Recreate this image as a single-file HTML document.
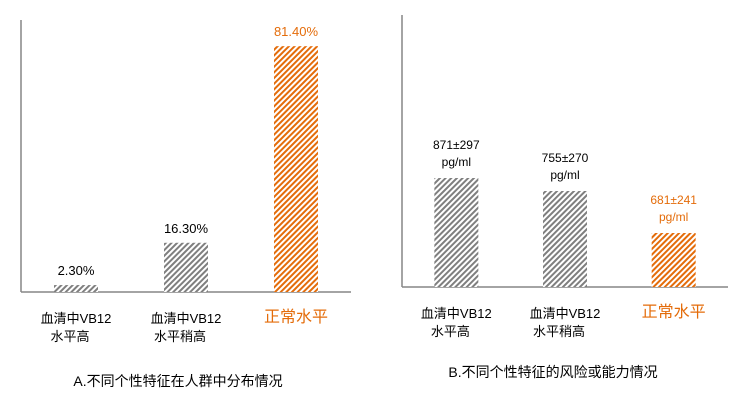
<!DOCTYPE html>
<html><head><meta charset="utf-8"><style>
body{margin:0;background:#fff;width:746px;height:414px;overflow:hidden}
svg text{font-family:"Liberation Sans","Noto Sans CJK SC",sans-serif}
</style></head><body>
<svg id="c" width="746" height="414">
<defs>
<pattern id="hg" width="4" height="4" patternUnits="userSpaceOnUse" patternTransform="rotate(45)"><rect width="4" height="4" fill="#fff"/><rect width="2" height="4" fill="#7f7f7f"/></pattern>
<pattern id="ho" width="4" height="4" patternUnits="userSpaceOnUse" patternTransform="rotate(45)"><rect width="4" height="4" fill="#fff"/><rect width="2" height="4" fill="#e46c0a"/></pattern>
</defs>
</svg>
<script>
const catsL1=["血清中VB12","血清中VB12","正常水平"];
const catsL2=["水平高","水平稍高",""];
const pctValues=[2.3,16.3,81.4];
const pctLabels=["2.30%","16.30%","81.40%"];
const levelValues=[109,96,54];
const levelLabels1=["871±297","755±270","681±241"];
const levelLabels2=["pg/ml","pg/ml","pg/ml"];
const svg=document.getElementById('c');const NS="http://www.w3.org/2000/svg";
function mk(t,a,txt){const e=document.createElementNS(NS,t);for(const k in a)e.setAttribute(k,a[k]);if(txt!==undefined)e.textContent=txt;svg.appendChild(e);return e;}
function chart(o){
 const ax=mk('line',{x1:o.x0,y1:o.top,x2:o.x0,y2:o.base,stroke:'#868686','stroke-width':1.5});
 
 const bx=mk('line',{x1:o.x0,y1:o.base,x2:o.x1,y2:o.base,stroke:'#868686','stroke-width':1.5});
 
 const bw=(o.x1-o.x0)/3;
 o.vals.forEach((v,i)=>{
  const cx=o.x0+bw*(i+0.5);const h=v*o.k;const orange=i===2;
  const r=mk('rect',{x:cx-22,y:o.base-h,width:44,height:h,fill:orange?'url(#ho)':'url(#hg)'});
  
  const col=orange?'#e46c0a':'#000';
  if(o.lab2){
   const t1=mk('text',{x:cx,y:o.base-h-29,'text-anchor':'middle','font-size':12,fill:col},o.lab1[i]);
   
   const t2=mk('text',{x:cx,y:o.base-h-12,'text-anchor':'middle','font-size':12,fill:col},o.lab2[i]);
   
  }else{
   const t1=mk('text',{x:cx,y:o.base-h-10,'text-anchor':'middle','font-size':13,fill:col},o.lab1[i]);
   
  }
  if(orange){
   const c=mk('text',{x:cx,y:o.base+30,'text-anchor':'middle','font-size':16,fill:col},catsL1[i]);
   
  }else{
   const c=mk('text',{x:cx,y:o.base+31,'text-anchor':'middle','font-size':13,fill:'#000'},catsL1[i]);
   
   const c2=mk('text',{x:cx-6,y:o.base+49,'text-anchor':'middle','font-size':13,fill:'#000'},catsL2[i]);
   
  }
 });
 const t=mk('text',{x:o.tx,y:o.ty,'text-anchor':'middle','font-size':14,fill:'#000'},o.title);
 
}
chart({id:'chart-a',x0:21,x1:351,top:20,base:292,k:3.02,vals:pctValues,lab1:pctLabels,title:'A.不同个性特征在人群中分布情况',tx:178,ty:386});
chart({id:'chart-b',x0:402,x1:728,top:15,base:287,k:1,vals:levelValues,lab1:levelLabels1,lab2:levelLabels2,title:'B.不同个性特征的风险或能力情况',tx:553,ty:377});
</script>
</body></html>
